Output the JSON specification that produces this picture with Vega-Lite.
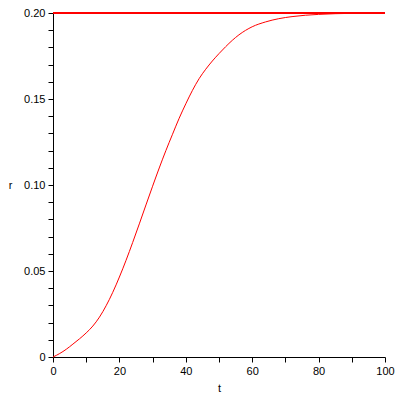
{
  "$schema": "https://vega.github.io/schema/vega-lite/v6.json",
  "width": 332,
  "height": 344,
  "autosize": {"type": "none"},
  "padding": {"left": 53, "top": 13, "right": 15, "bottom": 43},
  "background": "white",
  "config": {
    "view": {"stroke": null},
    "axis": {
      "grid": false,
      "domainColor": "black",
      "tickColor": "black",
      "labelColor": "black",
      "titleColor": "black",
      "labelFont": "Liberation Sans",
      "titleFont": "Liberation Sans",
      "labelFontSize": 11,
      "titleFontSize": 11,
      "titleFontWeight": "normal",
      "tickSize": 5,
      "labelPadding": 3
    }
  },
  "datasets": {
    "curve": [
      {"t": 0, "r": 0},
      {"t": 2, "r": 0.002},
      {"t": 4, "r": 0.0045},
      {"t": 6, "r": 0.0075},
      {"t": 8, "r": 0.0106},
      {"t": 10, "r": 0.014},
      {"t": 12, "r": 0.018},
      {"t": 14, "r": 0.0232},
      {"t": 16, "r": 0.0298},
      {"t": 18, "r": 0.0376},
      {"t": 20, "r": 0.0465},
      {"t": 22, "r": 0.0562},
      {"t": 24, "r": 0.0666},
      {"t": 26, "r": 0.0774},
      {"t": 28, "r": 0.0884},
      {"t": 30, "r": 0.0993},
      {"t": 32, "r": 0.1099},
      {"t": 34, "r": 0.12},
      {"t": 36, "r": 0.1295},
      {"t": 38, "r": 0.1388},
      {"t": 40, "r": 0.1472},
      {"t": 42, "r": 0.155},
      {"t": 44, "r": 0.1618},
      {"t": 46, "r": 0.1673},
      {"t": 48, "r": 0.1721},
      {"t": 50, "r": 0.1764},
      {"t": 52, "r": 0.1804},
      {"t": 54, "r": 0.1841},
      {"t": 56, "r": 0.1873},
      {"t": 58, "r": 0.1899},
      {"t": 60, "r": 0.192},
      {"t": 64, "r": 0.1948},
      {"t": 68, "r": 0.1967},
      {"t": 72, "r": 0.1979},
      {"t": 76, "r": 0.1987},
      {"t": 80, "r": 0.1992},
      {"t": 85, "r": 0.1996},
      {"t": 90, "r": 0.1998},
      {"t": 100, "r": 0.2}
    ],
    "limit": [
      {"t": 0, "r": 0.2},
      {"t": 100, "r": 0.2}
    ]
  },
  "encoding": {
    "x": {
      "field": "t",
      "type": "quantitative",
      "scale": {"domain": [0, 100], "nice": false, "zero": false},
      "axis": {
        "title": "t",
        "values": [0, 10, 20, 30, 40, 50, 60, 70, 80, 90, 100],
        "labelExpr": "datum.value % 20 === 0 ? datum.label : ''",
        "labelFlush": false,
        "labelOverlap": false,
        "titleY": 31,
        "titleBaseline": "middle"
      }
    },
    "y": {
      "field": "r",
      "type": "quantitative",
      "scale": {"domain": [0, 0.2], "nice": false, "zero": false},
      "axis": {
        "title": "r",
        "values": [0, 0.01, 0.02, 0.03, 0.04, 0.05, 0.06, 0.07, 0.08, 0.09, 0.1, 0.11, 0.12, 0.13, 0.14, 0.15, 0.16, 0.17, 0.18, 0.19, 0.2],
        "labelExpr": "round(datum.value * 100) % 5 === 0 ? (datum.value === 0 ? '0' : format(datum.value, '.2f')) : ''",
        "labelFlush": false,
        "labelOverlap": false,
        "titleAngle": 0,
        "titleX": -43,
        "titleY": 172,
        "titleAlign": "center",
        "titleBaseline": "middle"
      }
    }
  },
  "layer": [
    {
      "data": {"name": "limit"},
      "mark": {"type": "line", "color": "#ff0000", "strokeWidth": 2, "clip": false}
    },
    {
      "data": {"name": "curve"},
      "mark": {"type": "line", "color": "#ff0000", "strokeWidth": 1, "interpolate": "monotone"}
    }
  ]
}
